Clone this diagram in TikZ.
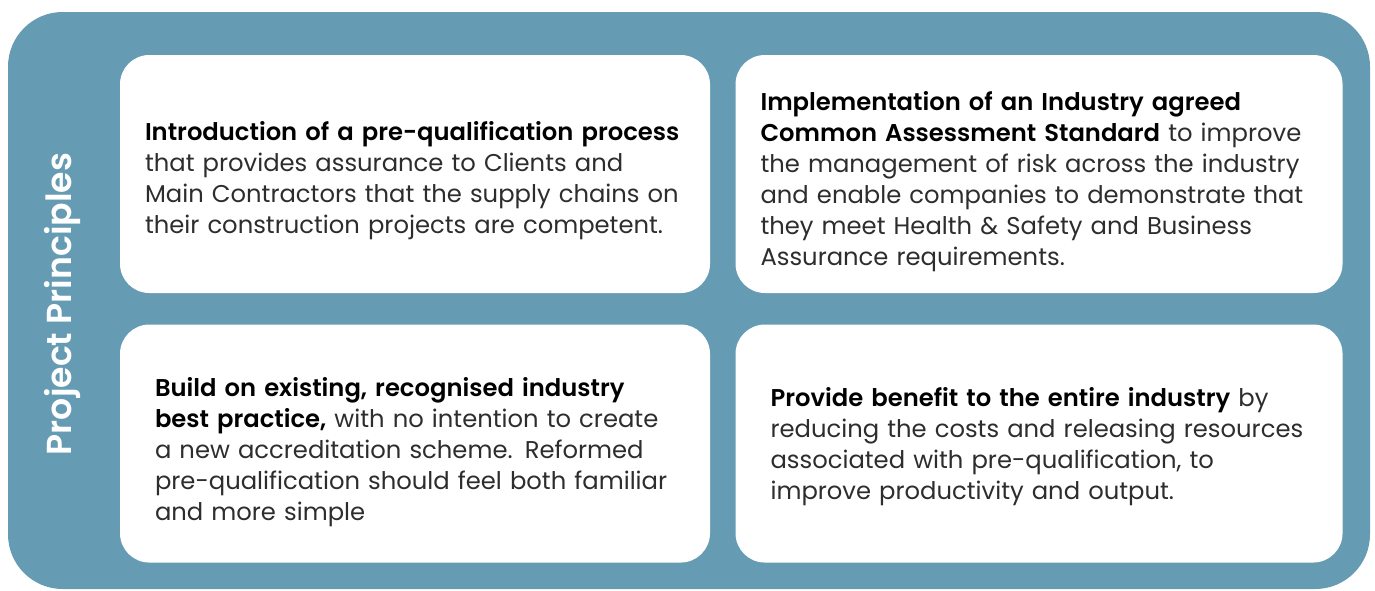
\documentclass[tikz,border=0pt]{standalone}
\usepackage{fontspec}
\setmainfont{Poppins}[BoldFont={* SemiBold}]
\usepackage{tikz}
\usetikzlibrary{positioning}

\definecolor{panelblue}{RGB}{101,156,180}
\definecolor{bodygrey}{RGB}{45,45,45}

\begin{document}
\begin{tikzpicture}[x=0.75pt,y=-0.75pt,
   panel/.style={fill=panelblue,rounded corners=41pt,minimum width=1021.5pt,minimum height=432.75pt},
   principle/.style={fill=white,rounded corners=22pt,minimum height=178.5pt,inner xsep=#1,
      text width=442.5pt-2*#1,align=left,font=\fontsize{18.2}{23.25}\selectfont,text=bodygrey},
   wide/.style={minimum width=455.25pt,text width=455.25pt-2*#1},
   drop/.style={text height=#1},
   title/.style={rotate=90,text=white,font=\fontsize{26}{30}\selectfont\bfseries}]
   \useasboundingbox (0,0) rectangle (1375,590);
   \node[panel] (panel) at (689,300.5) {};
   \node[title] (heading) at (62,304) {Project Principles};
   \node[principle=18.75pt,drop=24.5pt] (intro) at (415,174)
      {\textbf{\color{black}Introduction of a pre-qualification process}\\
       that provides assurance to Clients and\\
       Main Contractors that the supply chains on\\
       their construction projects are competent.};
   \node[principle=18.75pt,wide=18.75pt,drop=25.5pt] (standard) [right=18.75pt of intro]
      {\textbf{\color{black}Implementation of an Industry agreed}\\
       \textbf{\color{black}Common Assessment Standard} to improve\\
       the management of risk across the industry\\
       and enable companies to demonstrate that\\
       they meet Health \& Safety and Business\\
       Assurance requirements.};
   \node[principle=26.25pt,drop=27.5pt] (practice) [below=23.25pt of intro]
      {\textbf{\color{black}Build on existing, recognised industry}\\
       \textbf{\color{black}best practice,} with no intention to create\\
       a new accreditation scheme. Reformed\\
       pre-qualification should feel both familiar\\
       and more simple};
   \node[principle=26.25pt,wide=26.25pt,drop=18.5pt] (benefit) [below=23.25pt of standard]
      {\textbf{\color{black}Provide benefit to the entire industry} by\\
       reducing the costs and releasing resources\\
       associated with pre-qualification, to\\
       improve productivity and output.};
\end{tikzpicture}
\end{document}
